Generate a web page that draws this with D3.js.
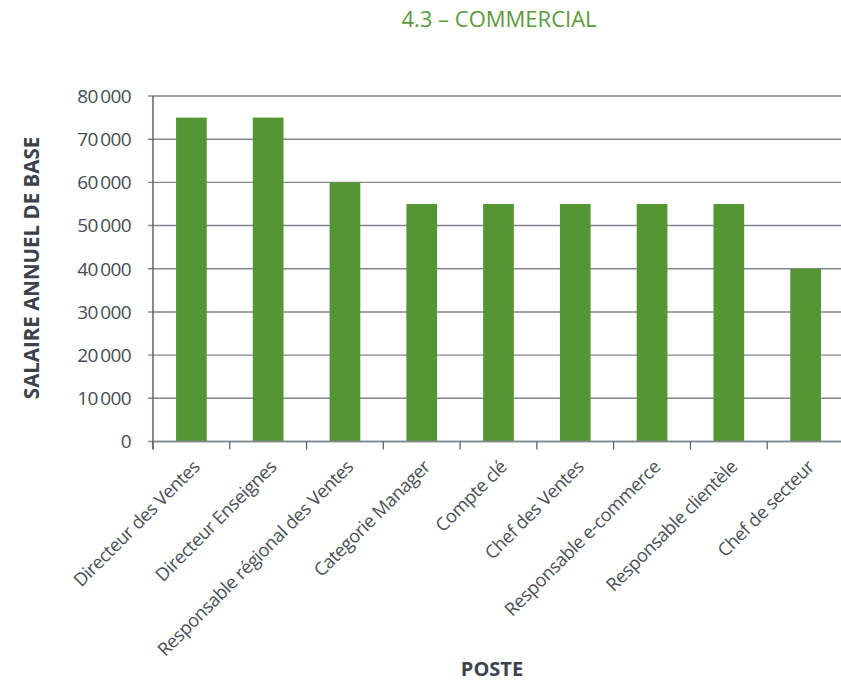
<!DOCTYPE html>
<html>
<head>
<meta charset="utf-8">
<script src="https://cdn.jsdelivr.net/npm/d3@7"></script>
<style>
  html, body { margin: 0; padding: 0; background: #fff; }
  svg { display: block; font-family: "Open Sans", "Noto Sans", sans-serif; }
</style>
</head>
<body>
<svg id="chart" width="841" height="681"></svg>
<script>
// Postes commerciaux et salaire annuel de base (EUR)
const postes = [
  "Directeur des Ventes",
  "Directeur Enseignes",
  "Responsable régional des Ventes",
  "Categorie Manager",
  "Compte clé",
  "Chef des Ventes",
  "Responsable e-commerce",
  "Responsable clientèle",
  "Chef de secteur"
];
const salaires = [75000, 75000, 60000, 55000, 55000, 55000, 55000, 55000, 40000];
const yTicks = [0, 10000, 20000, 30000, 40000, 50000, 60000, 70000, 80000];

const svg = d3.select("#chart");
const plotLeft = 153, plotRight = 844, plotTop = 96, plotBottom = 441.5;

const x = d3.scaleBand().domain(postes).range([plotLeft, plotRight])
  .paddingInner(0.6).paddingOuter(0.3);
const y = d3.scaleLinear().domain([0, 80000]).range([plotBottom, plotTop]);

const fmt = v => d3.format(",")(v).replace(/,/g, "\u2009");

// Titre
svg.append("text")
  .attr("x", 499).attr("y", 27)
  .attr("text-anchor", "middle")
  .attr("fill", "#5a9a3c")
  .style("font-size", "22px")
  .text("4.3 \u2013 COMMERCIAL");

// Grille horizontale
svg.append("g").selectAll("line").data(yTicks).join("line")
  .attr("x1", plotLeft - 5).attr("x2", 841)
  .attr("y1", d => y(d)).attr("y2", d => y(d))
  .attr("stroke", "#80868e").attr("stroke-width", 1.4);

// Libellés de l'axe Y
svg.append("g").selectAll("text").data(yTicks).join("text")
  .attr("x", 131).attr("y", d => y(d))
  .attr("dy", "0.36em")
  .attr("text-anchor", "end")
  .attr("fill", "#474c55")
  .style("font-size", "19px")
  .style("letter-spacing", "-0.6px")
  .text(d => fmt(d));

// Barres
svg.append("g").selectAll("rect").data(postes).join("rect")
  .attr("x", d => x(d))
  .attr("width", x.bandwidth())
  .attr("y", (d, i) => y(salaires[i]))
  .attr("height", (d, i) => y(0) - y(salaires[i]))
  .attr("fill", "#559634");

// Axe Y (trait vertical)
svg.append("line")
  .attr("x1", plotLeft).attr("x2", plotLeft)
  .attr("y1", plotTop).attr("y2", plotBottom + 8)
  .attr("stroke", "#555b64").attr("stroke-width", 1.4);

// Axe X : ligne de base et graduations entre catégories
svg.append("line")
  .attr("x1", plotLeft).attr("x2", 841)
  .attr("y1", plotBottom).attr("y2", plotBottom)
  .attr("stroke", "#80868e").attr("stroke-width", 1.4);

const step = x.step();
const bounds = d3.range(postes.length + 1).map(i => plotLeft + i * step);
svg.append("g").selectAll("line").data(bounds).join("line")
  .attr("x1", d => d).attr("x2", d => d)
  .attr("y1", plotBottom).attr("y2", plotBottom + 8)
  .attr("stroke", "#555b64").attr("stroke-width", 1.2);

// Libellés des catégories (inclinés à 45°)
svg.append("g").selectAll("text").data(postes).join("text")
  .attr("transform", d => `translate(${x(d) + x.bandwidth() / 2 + 5},${plotBottom + 22}) rotate(-45)`)
  .attr("text-anchor", "end")
  .attr("dy", "0.35em")
  .attr("fill", "#4a4f58")
  .style("font-size", "18.3px")
  .style("letter-spacing", "-0.4px")
  .text(d => d);

// Titres des axes
svg.append("text")
  .attr("transform", "translate(39,268) rotate(-90)")
  .attr("text-anchor", "middle")
  .attr("fill", "#3c424c")
  .style("font-size", "20.5px")
  .style("font-weight", "bold")
  .text("SALAIRE ANNUEL DE BASE");

svg.append("text")
  .attr("x", 492).attr("y", 676)
  .attr("text-anchor", "middle")
  .attr("fill", "#3c424c")
  .style("font-size", "20px")
  .style("font-weight", "bold")
  .text("POSTE");
</script>
</body>
</html>
